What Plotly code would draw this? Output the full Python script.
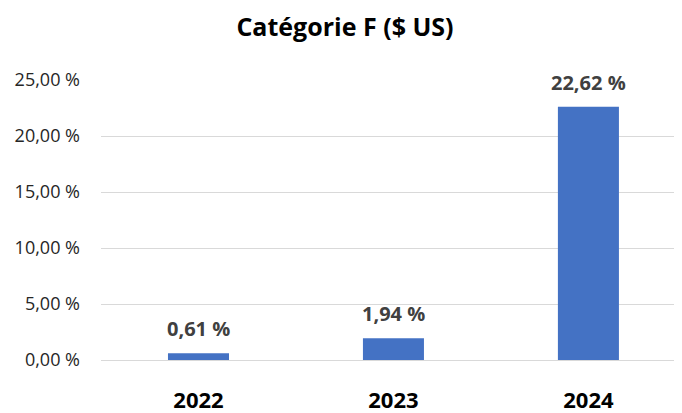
import plotly.graph_objects as go

categories = ["2022", "2023", "2024"]
values = [0.61, 1.94, 22.62]
tick_vals = [0, 5, 10, 15, 20, 25]
tick_text = ["0,00 %", "5,00 %", "10,00 %", "15,00 %", "20,00 %", "25,00 %"]
label_text = ["0,61 %", "1,94 %", "22,62 %"]

FONT = "Open Sans"

fig = go.Figure()
fig.add_trace(go.Bar(
    x=categories, y=values, width=0.313,
    marker=dict(color="#4472C4", line=dict(width=0)),
    hoverinfo="skip",
))
for i, (v, t) in enumerate(zip(values, label_text)):
    fig.add_annotation(x=i, y=v, xref="x", yref="y", text="<b>%s</b>" % t,
                       showarrow=False, yanchor="bottom", yshift=9,
                       font=dict(family=FONT, size=20, color="#404040"))

# page body has an 8px margin: figure is sized/offset to compensate
fig.update_layout(
    width=674, height=405,
    margin=dict(l=93, r=0, t=72, b=53),
    paper_bgcolor="white", plot_bgcolor="white",
    showlegend=False,
    title=dict(text="<b>Catégorie F ($ US)</b>", x=0.5, xanchor="center",
               y=0.953, yanchor="middle",
               font=dict(family=FONT, size=25, color="black")),
)
fig.update_xaxes(type="category", range=[-0.5, 2.48], showgrid=False,
                 showline=False, ticks="", automargin=False,
                 tickfont=dict(family=FONT, size=22, color="black"),
                 tickprefix="<b>", ticksuffix="</b>", ticklabelstandoff=25)
fig.update_yaxes(range=[0, 25], tickvals=tick_vals, ticktext=tick_text,
                 showgrid=True, gridcolor="#D9D9D9", gridwidth=1,
                 zeroline=True, zerolinecolor="#D9D9D9", zerolinewidth=1,
                 showline=False, ticks="", ticklabelstandoff=20, automargin=False,
                 tickfont=dict(family=FONT, size=18, color="#262626"))
fig.write_html("out.html")
